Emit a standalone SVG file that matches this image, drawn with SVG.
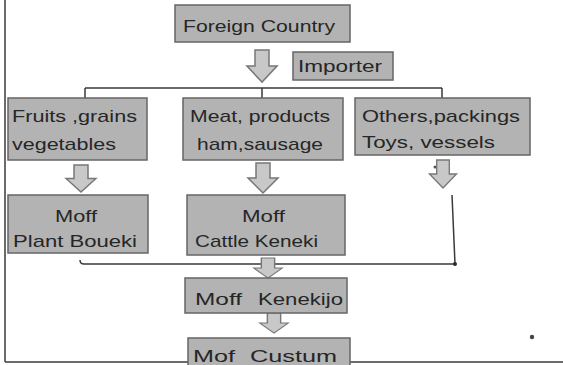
<svg xmlns="http://www.w3.org/2000/svg" xmlns:xlink="http://www.w3.org/1999/xlink" width="563" height="365" viewBox="0 0 563 365">
<defs>
<style>
.box{fill:#b3b3b3;stroke:#666666;stroke-width:1.5}
.t{font-family:"Liberation Sans",Arial,sans-serif;font-size:17px;fill:#262626}
.ln{stroke:#3a3a3a;stroke-width:1.5;fill:none}
.arr{fill:#c8c8c8;stroke:#777777;stroke-width:1.5}
</style>
<path id="blk" d="M-7,0 H7 V15 H15 L0,30 L-15,15 H-7 Z"/>
</defs>
<rect x="0" y="0" width="563" height="365" fill="#ffffff"/>
<line class="ln" x1="5" y1="0" x2="5" y2="362"/>
<line class="ln" x1="5" y1="362" x2="563" y2="362"/>
<g id="connectors">
<path class="ln" d="M85,88 H442 M85,88 V98 M262,88 V98 M442,88 V98"/>
<path class="ln" d="M452,195 L455,264 M80,260 Q80,264 84,264 H455"/>
<circle cx="455" cy="264" r="2" fill="#2a2a2a"/>
<circle cx="435" cy="167" r="1.5" fill="#555"/>
<circle cx="532" cy="337" r="2.2" fill="#444"/>
<use xlink:href="#blk" class="arr" transform="translate(262,50) scale(1,1.07)"/>
<use xlink:href="#blk" class="arr" transform="translate(81,165) scale(1,0.9)"/>
<use xlink:href="#blk" class="arr" transform="translate(263,163)"/>
<use xlink:href="#blk" class="arr" transform="translate(443,160) scale(0.9,0.93)"/>
<use xlink:href="#blk" class="arr" transform="translate(268,258) scale(0.95,0.67)"/>
<use xlink:href="#blk" class="arr" transform="translate(274,313) scale(0.95,0.67)"/>
</g>
<g id="foreign">
<rect class="box" x="175" y="5" width="175" height="37"/>
<text class="t" x="183" y="32" textLength="152" lengthAdjust="spacingAndGlyphs">Foreign Country</text>
</g>
<g id="importer">
<rect class="box" x="293" y="52" width="100" height="28"/>
<text class="t" x="298" y="72" textLength="84" lengthAdjust="spacingAndGlyphs">Importer</text>
</g>
<g id="fruits">
<rect class="box" x="8" y="98" width="139" height="62"/>
<text class="t" x="12" y="122" textLength="125" lengthAdjust="spacingAndGlyphs">Fruits ,grains</text>
<text class="t" x="12" y="150" textLength="104" lengthAdjust="spacingAndGlyphs">vegetables</text>
</g>
<g id="meat">
<rect class="box" x="183" y="98" width="160" height="62"/>
<text class="t" x="190" y="122" textLength="140" lengthAdjust="spacingAndGlyphs">Meat, products</text>
<text class="t" x="197" y="150" textLength="126" lengthAdjust="spacingAndGlyphs">ham,sausage</text>
</g>
<g id="others">
<rect class="box" x="355" y="98" width="175" height="57"/>
<text class="t" x="362" y="122" textLength="158" lengthAdjust="spacingAndGlyphs">Others,packings</text>
<text class="t" x="362" y="148" textLength="133" lengthAdjust="spacingAndGlyphs">Toys, vessels</text>
</g>
<g id="plant">
<rect class="box" x="8" y="195" width="140" height="58"/>
<text class="t" x="55" y="222" textLength="42" lengthAdjust="spacingAndGlyphs">Moff</text>
<text class="t" x="13" y="247" textLength="124" lengthAdjust="spacingAndGlyphs">Plant Boueki</text>
</g>
<g id="cattle">
<rect class="box" x="187" y="195" width="158" height="60"/>
<text class="t" x="242" y="222" textLength="43" lengthAdjust="spacingAndGlyphs">Moff</text>
<text class="t" x="195" y="247" textLength="123" lengthAdjust="spacingAndGlyphs">Cattle Keneki</text>
</g>
<g id="kenekijo">
<rect class="box" x="185" y="278" width="162" height="35"/>
<text class="t" x="195" y="305" textLength="47" lengthAdjust="spacingAndGlyphs">Moff</text>
<text class="t" x="258" y="305" textLength="85" lengthAdjust="spacingAndGlyphs">Kenekijo</text>
</g>
<g id="custum">
<rect class="box" x="188" y="338" width="162" height="30"/>
<text class="t" x="193" y="362" textLength="42" lengthAdjust="spacingAndGlyphs">Mof</text>
<text class="t" x="250" y="362" textLength="87" lengthAdjust="spacingAndGlyphs">Custum</text>
</g>
</svg>
